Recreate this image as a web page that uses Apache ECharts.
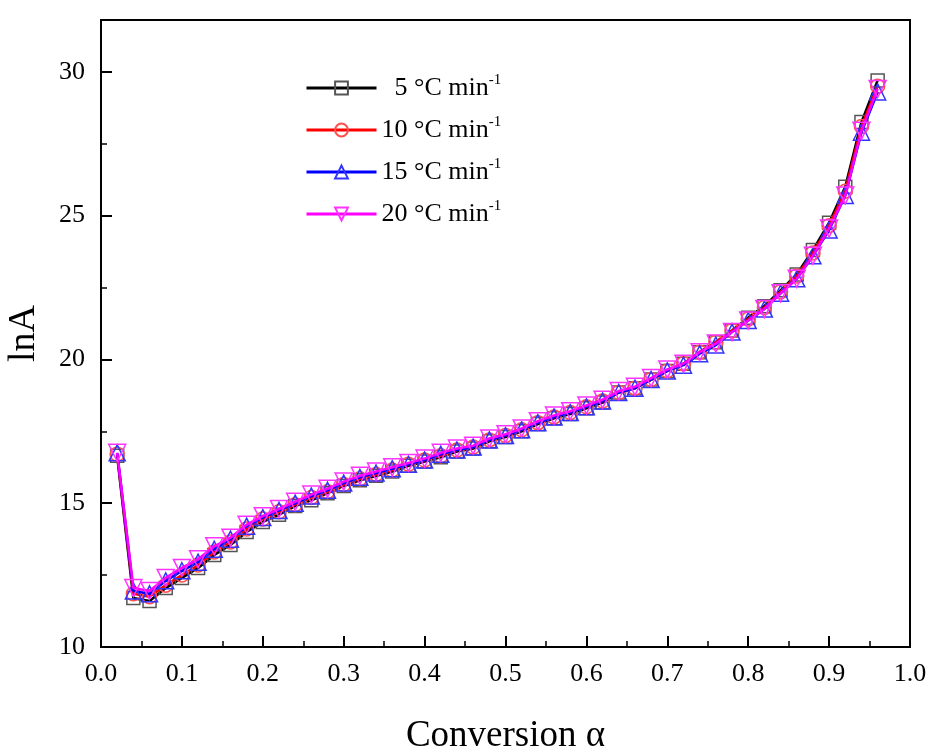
<!DOCTYPE html>
<html>
<head>
<meta charset="utf-8">
<script src="https://cdn.jsdelivr.net/npm/echarts@6/dist/echarts.min.js"></script>
<style>
html,body{margin:0;padding:0;background:#fff;}
#chart{width:933px;height:753px;}
</style>
</head>
<body>
<div id="chart"></div>
<script>
// Conversion values (x)
var alpha = [0.02,0.04,0.06,0.08,0.10,0.12,0.14,0.16,0.18,0.20,0.22,0.24,0.26,0.28,0.30,0.32,0.34,0.36,0.38,0.40,0.42,0.44,0.46,0.48,0.50,0.52,0.54,0.56,0.58,0.60,0.62,0.64,0.66,0.68,0.70,0.72,0.74,0.76,0.78,0.80,0.82,0.84,0.86,0.88,0.90,0.92,0.94,0.96];
// lnA for each heating rate
var lnA5 = [16.65,11.7,11.6,12.05,12.4,12.75,13.2,13.55,14.0,14.35,14.6,14.9,15.1,15.35,15.6,15.8,15.95,16.1,16.3,16.45,16.6,16.8,16.9,17.15,17.3,17.5,17.75,17.95,18.1,18.3,18.5,18.85,19.0,19.3,19.6,19.85,20.25,20.6,21.0,21.45,21.85,22.4,22.95,23.8,24.75,26.0,28.25,29.7];
var lnA10 = [16.7,11.85,11.75,12.15,12.5,12.85,13.3,13.65,14.1,14.45,14.7,14.95,15.2,15.4,15.65,15.85,16.0,16.15,16.35,16.5,16.65,16.85,16.95,17.2,17.35,17.55,17.8,18.0,18.15,18.35,18.55,18.85,19.0,19.3,19.6,19.85,20.25,20.6,21.0,21.4,21.8,22.35,22.9,23.7,24.65,25.85,28.1,29.5];
var lnA15 = [16.75,11.95,11.85,12.3,12.65,12.95,13.4,13.75,14.2,14.5,14.75,15.0,15.25,15.45,15.7,15.9,16.05,16.2,16.35,16.5,16.7,16.85,16.95,17.2,17.35,17.55,17.8,18.0,18.15,18.35,18.55,18.85,19.0,19.3,19.6,19.8,20.2,20.5,20.95,21.35,21.75,22.3,22.8,23.6,24.5,25.7,27.9,29.3];
var lnA20 = [16.75,12.05,11.95,12.4,12.75,13.05,13.5,13.8,14.25,14.55,14.8,15.05,15.3,15.5,15.75,15.95,16.1,16.25,16.4,16.55,16.75,16.9,17.0,17.25,17.4,17.6,17.85,18.05,18.2,18.4,18.6,18.9,19.05,19.35,19.65,19.85,20.25,20.55,20.95,21.35,21.75,22.3,22.8,23.6,24.55,25.7,27.95,29.4];
var rateNames = ['5','10','15','20'];
var xTickLabels = ['0.0','0.1','0.2','0.3','0.4','0.5','0.6','0.7','0.8','0.9','1.0'];
var yTickLabels = ['10','15','20','25','30'];

var serif = '"Liberation Serif", "Times New Roman", serif';
function pairs(ys){ return alpha.map(function(a,i){ return [a, ys[i]]; }); }
var seriesData = [lnA5, lnA10, lnA15, lnA20];
var colors = ['#000000', '#ff0000', '#0000ff', '#ff00ff'];
var markerColors = ['#555555', '#ff5050', '#3333ff', '#ff33ff'];
var symbols = ['rect', 'circle', 'triangle', 'path://M0,0 L10,0 L5,9 Z'];
var sizes = [13, 14, 16, 17];

var chart = echarts.init(document.getElementById('chart'), null, {renderer: 'canvas'});
var option = {
  backgroundColor: '#ffffff',
  animation: false,
  grid: {left: 101, right: 23, top: 20, bottom: 106, containLabel: false, outerBoundsMode: 'none',
    show: true, borderColor: '#000', borderWidth: 2, backgroundColor: 'transparent'},
  legend: {
    left: 300, top: 68, orient: 'vertical',
    itemWidth: 70, itemHeight: 16, itemGap: 12,
    data: rateNames,
    lineStyle: {width: 3},
    formatter: function(name){ return (name === '5' ? '  5' : name) + ' °C min{sup|-1}'; },
    textStyle: {fontFamily: serif, fontSize: 26, color: '#000', lineHeight: 30,
      rich: {sup: {fontFamily: serif, fontSize: 15, color: '#000', verticalAlign: 'top', padding: [0,0,14,0]}}}
  },
  xAxis: {
    type: 'value', min: 0, max: 1, interval: 0.1,
    name: 'Conversion α', nameLocation: 'middle', nameGap: 71,
    nameTextStyle: {fontFamily: serif, fontSize: 37, color: '#000'},
    axisLine: {show: true, onZero: false, lineStyle: {color: '#000', width: 2}},
    axisTick: {show: true, inside: true, length: 11, lineStyle: {color: '#000', width: 2}},
    minorTick: {show: true, splitNumber: 2, length: 6, lineStyle: {color: '#000', width: 1.5}},
    axisLabel: {fontFamily: serif, fontSize: 26, color: '#000', margin: 14,
      formatter: function(v){ return xTickLabels[Math.round(v*10)]; }},
    splitLine: {show: false}
  },
  yAxis: {
    type: 'value', min: 10, max: 31.8, interval: 5,
    name: 'lnA', nameLocation: 'middle', nameGap: 58, nameRotate: 90,
    nameTextStyle: {fontFamily: serif, fontSize: 38, color: '#000'},
    axisLine: {show: true, onZero: false, lineStyle: {color: '#000', width: 2}},
    axisTick: {show: true, inside: true, length: 11, lineStyle: {color: '#000', width: 2}},
    minorTick: {show: true, splitNumber: 2, length: 6, lineStyle: {color: '#000', width: 1.5}},
    axisLabel: {fontFamily: serif, fontSize: 26, color: '#000', margin: 16, showMaxLabel: false,
      formatter: function(v){ var i = Math.round((v-10)/5); return (Math.abs(v-10-5*i) < 1e-6 && yTickLabels[i]) ? yTickLabels[i] : ''; }},
    splitLine: {show: false}
  },
  series: rateNames.map(function(n, k){
    return {
      name: n, type: 'line', data: pairs(seriesData[k]),
      symbol: symbols[k], symbolSize: sizes[k], showAllSymbol: true,
      lineStyle: {color: colors[k], width: 2.6},
      itemStyle: {color: 'rgba(255,255,255,0)', borderColor: markerColors[k], borderWidth: 1.5},
      z: 2 + k
    };
  })
};
chart.setOption(option);
</script>
</body>
</html>
